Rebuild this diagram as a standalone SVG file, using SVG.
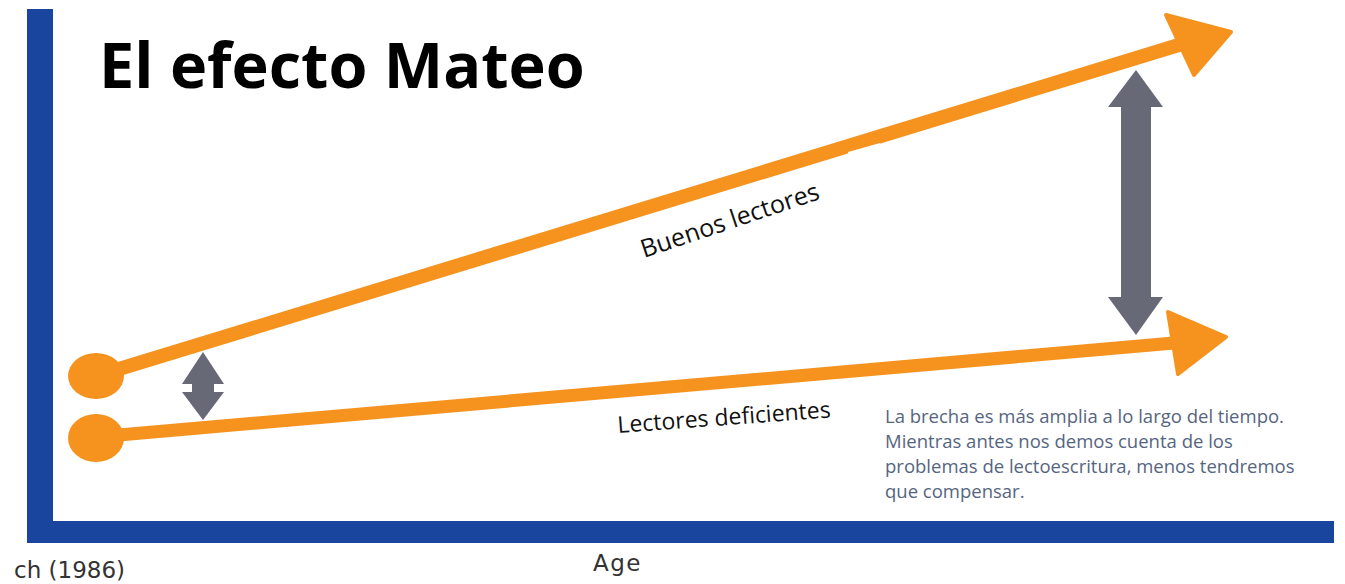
<svg xmlns="http://www.w3.org/2000/svg" width="1345" height="584" viewBox="0 0 1345 584">
  <style>
    .axis { fill: #1a459e; }
    .orange { fill: #f6921e; }
    .oline { stroke: #f6921e; stroke-linecap: butt; fill: none; }
    .head { fill: #f6921e; stroke: #f6921e; stroke-width: 4; stroke-linejoin: round; }
    .grey { fill: #686976; }
    .title { font-family: "Open Sans", "Liberation Sans", sans-serif; font-weight: 700; font-size: 63px; fill: #000; }
    .label { font-family: "Open Sans", "Liberation Sans", sans-serif; fill: #111; }
    .note { font-family: "Open Sans", "Liberation Sans", sans-serif; font-size: 18.5px; fill: #56657f; }
    .axislabel { font-family: "DejaVu Sans", "Liberation Sans", sans-serif; font-size: 23px; fill: #333; }
  </style>
  <rect width="1345" height="584" fill="#ffffff"/>

  <g id="axes">
    <rect class="axis" x="27" y="9" width="26" height="534"/>
    <rect class="axis" x="27" y="521" width="1307" height="22"/>
  </g>

  <g id="title">
    <text class="title" x="99" y="88">El efecto Mateo</text>
  </g>

  <g id="connectors">
    <line class="oline" x1="96" y1="376" x2="1182" y2="44" stroke-width="14"/>
    <polygon class="head" points="1166,15 1231,32 1194,75"/>
    <line class="oline" x1="96" y1="437" x2="1174" y2="343" stroke-width="13"/>
    <polygon class="head" points="1168,312 1226,337 1178,374"/>
    <polygon fill="#ffffff" points="848,152 880,143 884,162 852,168"/>
  </g>

  <g id="node-buenos-start">
    <ellipse class="orange" cx="96" cy="376" rx="28" ry="23"/>
  </g>
  <g id="node-deficientes-start">
    <ellipse class="orange" cx="96" cy="438" rx="28" ry="24"/>
  </g>

  <g id="gap-small">
    <polygon class="grey" points="203,352 224,384 214,384 214,392 224,392 203,420 182,392 192,392 192,384 182,384"/>
  </g>
  <g id="gap-large">
    <polygon class="grey" points="1136,70 1163,107 1151,107 1151,297 1163,297 1136,335 1108,297 1121,297 1121,107 1108,107"/>
  </g>

  <g id="label-buenos">
    <text class="label" font-size="25" transform="translate(644,258) rotate(-18.5)">Buenos lectores</text>
  </g>
  <g id="label-deficientes">
    <text class="label" font-size="23" transform="translate(618,433) rotate(-4.2)">Lectores deficientes</text>
  </g>

  <g id="note">
    <text class="note" x="885" y="423">La brecha es más amplia a lo largo del tiempo.</text>
    <text class="note" x="885" y="448">Mientras antes nos demos cuenta de los</text>
    <text class="note" x="885" y="473">problemas de lectoescritura, menos tendremos</text>
    <text class="note" x="885" y="498">que compensar.</text>
  </g>

  <g id="axis-labels">
    <text class="axislabel" x="14" y="578">ch (1986)</text>
    <text class="axislabel" x="593" y="571" letter-spacing="1.5">Age</text>
  </g>
</svg>
